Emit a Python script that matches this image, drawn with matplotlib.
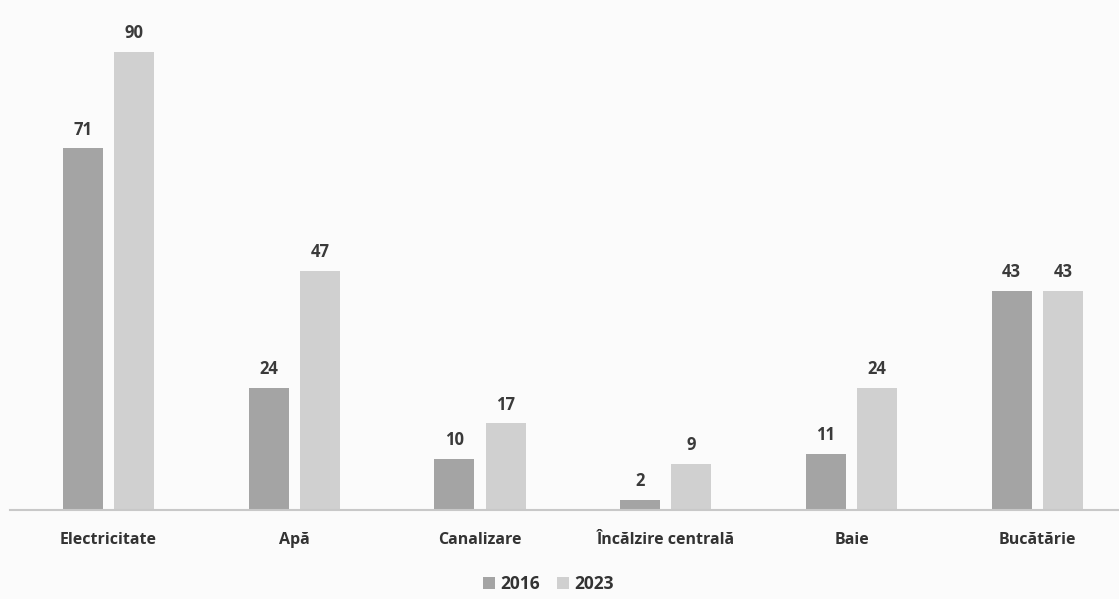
import matplotlib
matplotlib.use("Agg")
import matplotlib.pyplot as plt
import numpy as np

categories = ["Electricitate", "Apă", "Canalizare", "Încălzire centrală", "Baie", "Bucătărie"]
years = ["2016", "2023"]
values_2016 = [71, 24, 10, 2, 11, 43]
values_2023 = [90, 47, 17, 9, 24, 43]

plt.rcParams['font.family'] = ['Open Sans', 'DejaVu Sans']

fig = plt.figure(figsize=(11.19, 5.99), dpi=100)
fig.patch.set_facecolor("#fbfbfb")
ax = fig.add_axes([0.009, 0.1486, 0.991, 0.85])
ax.set_facecolor("#fbfbfb")

x = np.arange(len(categories))
w = 0.216
gap = 0.06
c16, c23 = "#a4a4a4", "#d0d0d0"
b1 = ax.bar(x - (w + gap) / 2, values_2016, w, color=c16, label=years[0])
b2 = ax.bar(x + (w + gap) / 2, values_2023, w, color=c23, label=years[1])

for bars in (b1, b2):
    for r in bars:
        ax.annotate(f"{int(r.get_height())}", (r.get_x() + r.get_width() / 2, r.get_height()),
                    xytext=(0, 7), textcoords="offset points", ha="center", va="bottom",
                    fontsize=12, fontweight="bold", color="#3a3a3a")

ax.set_xlim(-0.53, 5.44)
ax.set_ylim(0, 100)
for s in ["top", "right", "left"]:
    ax.spines[s].set_visible(False)
ax.spines["bottom"].set_color("#c8c8c8")
ax.spines["bottom"].set_linewidth(1.5)
ax.set_yticks([])
ax.set_xticks(x)
ax.set_xticklabels(categories, fontsize=11.5, fontweight="bold", color="#333333")
ax.tick_params(axis="x", length=0, pad=16)

leg = fig.legend(handles=[b1, b2], labels=years, loc="center", bbox_to_anchor=(0.49, 0.025),
                 ncol=2, frameon=False, fontsize=12.5, handlelength=0.7, handleheight=0.7,
                 handletextpad=0.3, columnspacing=1.0)
for t in leg.get_texts():
    t.set_fontweight("bold")
    t.set_color("#333333")

fig.savefig("out.png", dpi=100, facecolor=fig.get_facecolor())
